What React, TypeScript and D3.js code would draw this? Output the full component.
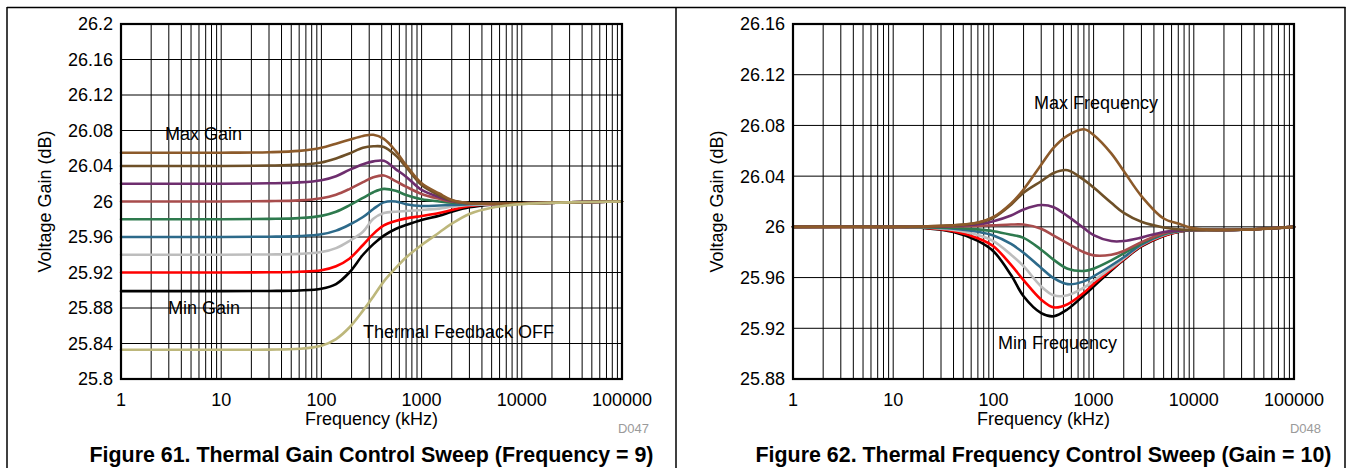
import React from 'react';
import * as d3 from 'd3';

// ---------- Figure 61: Thermal Gain Control Sweep ----------
const fig61Freq = [1, 10, 30, 60, 100, 140, 190, 260, 330, 420, 550, 700, 1000, 1500, 2000, 3000, 5000, 10000, 30000, 100000];
const fig61Gain1 = [26.055, 26.055, 26.0555, 26.057, 26.0605, 26.0652, 26.0695, 26.0738, 26.0752, 26.0705, 26.057, 26.041, 26.0205, 26.009, 26.0017, 25.998, 25.9975, 25.998, 25.999, 26.0];
const fig61Gain2 = [26.04, 26.04, 26.0405, 26.0415, 26.044, 26.0485, 26.054, 26.0605, 26.0622, 26.0615, 26.052, 26.039, 26.0186, 26.007, 26.001, 25.998, 25.9975, 25.998, 25.999, 26.0];
const fig61Gain3 = [26.02, 26.02, 26.0205, 26.0215, 26.024, 26.0285, 26.0356, 26.042, 26.0452, 26.0458, 26.0365, 26.028, 26.013, 26.005, 26.0006, 25.998, 25.9975, 25.998, 25.999, 26.0];
const fig61Gain4 = [26.0, 26.0, 26.0004, 26.0013, 26.0037, 26.0077, 26.014, 26.0218, 26.0272, 26.0293, 26.023, 26.0167, 26.0085, 26.003, 26.0, 25.998, 25.9975, 25.998, 25.999, 26.0];
const fig61Gain5 = [25.98, 25.98, 25.9804, 25.9813, 25.9838, 25.9885, 25.9956, 26.004, 26.0105, 26.0142, 26.012, 26.0073, 26.0025, 26.0, 25.9986, 25.998, 25.9975, 25.998, 25.999, 26.0];
const fig61Gain6 = [25.96, 25.96, 25.9603, 25.961, 25.963, 25.9672, 25.9738, 25.9825, 25.9915, 25.999, 26.0, 25.997, 25.995, 25.9955, 25.996, 25.997, 25.9975, 25.998, 25.999, 26.0];
const fig61Gain7 = [25.94, 25.94, 25.9403, 25.941, 25.943, 25.9475, 25.9555, 25.966, 25.9805, 25.987, 25.9885, 25.9893, 25.9904, 25.992, 25.994, 25.996, 25.997, 25.998, 25.999, 26.0];
const fig61Gain8 = [25.92, 25.92, 25.9202, 25.9208, 25.9225, 25.927, 25.9355, 25.951, 25.9635, 25.973, 25.978, 25.981, 25.9837, 25.987, 25.9904, 25.995, 25.997, 25.998, 25.999, 26.0];
const fig61Gain9 = [25.899, 25.899, 25.8992, 25.8998, 25.9018, 25.907, 25.92, 25.94, 25.952, 25.9615, 25.969, 25.9735, 25.9792, 25.984, 25.9885, 25.9935, 25.9965, 25.998, 25.999, 26.0];
const fig61FeedbackOff = [25.833, 25.833, 25.8331, 25.834, 25.8375, 25.845, 25.858, 25.877, 25.893, 25.91, 25.925, 25.937, 25.951, 25.965, 25.975, 25.986, 25.993, 25.997, 25.999, 26.0];
const fig61YTicks = [25.8, 25.84, 25.88, 25.92, 25.96, 26.0, 26.04, 26.08, 26.12, 26.16, 26.2];

// ---------- Figure 62: Thermal Frequency Control Sweep ----------
const fig62Freq = [1, 10, 20, 40, 70, 100, 150, 200, 300, 400, 550, 800, 1000, 1500, 2000, 3000, 5000, 7000, 10000, 30000, 100000];
const fig62Freq9 = [26.0, 26.0, 26.0003, 26.0012, 26.0035, 26.0078, 26.0185, 26.0295, 26.049, 26.0625, 26.072, 26.077, 26.0725, 26.058, 26.044, 26.0243, 26.0066, 26.0027, 25.9988, 25.9977, 26.0];
const fig62Freq8 = [26.0, 26.0, 26.0003, 26.0012, 26.0033, 26.0072, 26.0175, 26.027, 26.036, 26.0425, 26.0447, 26.037, 26.031, 26.019, 26.011, 26.004, 25.9995, 25.998, 25.9975, 25.9977, 26.0];
const fig62Freq7 = [26.0, 26.0, 26.0002, 26.0008, 26.002, 26.0045, 26.009, 26.0137, 26.0172, 26.0155, 26.0085, 25.999, 25.9935, 25.9888, 25.9888, 25.9915, 25.996, 25.997, 25.9975, 25.9977, 26.0];
const fig62Freq6 = [26.0, 26.0, 26.0, 26.0003, 26.0008, 26.0012, 26.0018, 26.0018, 25.9985, 25.993, 25.987, 25.98, 25.9775, 25.978, 25.981, 25.988, 25.995, 25.9972, 25.9975, 25.9977, 26.0];
const fig62Freq5 = [26.0, 26.0, 25.9998, 25.9993, 25.998, 25.9966, 25.9938, 25.9913, 25.982, 25.974, 25.967, 25.9652, 25.967, 25.9735, 25.979, 25.987, 25.9945, 25.9968, 25.9975, 25.9977, 26.0];
const fig62Freq4 = [26.0, 26.0, 25.9997, 25.9985, 25.9962, 25.9932, 25.9865, 25.9795, 25.9676, 25.9595, 25.9548, 25.957, 25.961, 25.9695, 25.976, 25.986, 25.994, 25.9965, 25.9975, 25.9977, 26.0];
const fig62Freq3 = [26.0, 26.0, 25.9995, 25.9975, 25.9935, 25.9887, 25.978, 25.969, 25.953, 25.946, 25.946, 25.952, 25.9575, 25.9675, 25.975, 25.9855, 25.9935, 25.9963, 25.9975, 25.9977, 26.0];
const fig62Freq2 = [26.0, 26.0, 25.9993, 25.9965, 25.991, 25.9847, 25.97, 25.958, 25.9426, 25.9365, 25.939, 25.948, 25.955, 25.9665, 25.9745, 25.985, 25.993, 25.9962, 25.9975, 25.9977, 26.0];
const fig62Freq1 = [26.0, 26.0, 25.9992, 25.996, 25.989, 25.9808, 25.962, 25.9453, 25.932, 25.9295, 25.935, 25.946, 25.953, 25.9655, 25.974, 25.9845, 25.9928, 25.996, 25.9975, 25.9977, 26.0];
const fig62YTicks = [25.88, 25.92, 25.96, 26.0, 26.04, 26.08, 26.12, 26.16];

const xTickValues = [1, 10, 100, 1000, 10000, 100000];

// series colours (drawing order: first drawn at the bottom)
const sweepColors = ['#000000', '#ff0000', '#bdbdbd', '#2d6a8a', '#2e7a4e', '#a84c4c', '#6e2e6e', '#6e5028', '#8c5a2a'];
const feedbackOffColor = '#bdb77b';

const FONT = '"Liberation Sans", Arial, Helvetica, sans-serif';

type Series = { freq: number[]; values: number[]; color: string };
type Note = { text: string; f: number; v: number };

function Chart(props: {
  left: number; right: number; top: number; bottom: number;
  yDomain: [number, number]; yTicks: number[];
  series: Series[]; notes: Note[]; caption: string; code: string;
}) {
  const { left, right, top, bottom, yDomain, yTicks, series, notes, caption, code } = props;
  const x = d3.scaleLog().domain([1, 100000]).range([left, right]);
  const y = d3.scaleLinear().domain(yDomain).range([bottom, top]);
  const grid: number[] = [];
  for (let e = 0; e < 5; e++) for (let k = 1; k < 10; k++) grid.push(k * Math.pow(10, e));
  grid.push(100000);
  const line = d3.line<[number, number]>().x(d => x(d[0])).y(d => y(d[1])).curve(d3.curveCatmullRom.alpha(0.5));
  const cx = (left + right) / 2;
  const fmt = (v: number) => String(Number(v.toFixed(2)));
  return (
    <g>
      {grid.map((g, i) => (
        <line key={'v' + i} x1={x(g)} x2={x(g)} y1={top} y2={bottom} stroke="#000" strokeWidth={1} />
      ))}
      {yTicks.map((t, i) => (
        <line key={'h' + i} x1={left} x2={right} y1={y(t)} y2={y(t)} stroke="#000" strokeWidth={1} />
      ))}
      {series.map((s, i) => (
        <path key={'s' + i} d={line(s.freq.map((f, j) => [f, s.values[j]] as [number, number])) || ''}
          fill="none" stroke={s.color} strokeWidth={2.6} strokeLinejoin="round" strokeLinecap="round" />
      ))}
      <rect x={left} y={top} width={right - left} height={bottom - top} fill="none" stroke="#000" strokeWidth={2.2} />
      {yTicks.map((t, i) => (
        <text key={'yl' + i} x={left - 8} y={y(t)} dy="0.36em" textAnchor="end" fontSize={18}>{fmt(t)}</text>
      ))}
      {xTickValues.map((t, i) => (
        <text key={'xl' + i} x={x(t)} y={bottom + 27} textAnchor="middle" fontSize={18}>{String(t)}</text>
      ))}
      <text x={cx} y={bottom + 46} textAnchor="middle" fontSize={18}>Frequency (kHz)</text>
      <text transform={`translate(${left - 70},${(top + bottom) / 2}) rotate(-90)`} textAnchor="middle" fontSize={18}>Voltage Gain (dB)</text>
      {notes.map((n, i) => (
        <text key={'n' + i} x={x(n.f)} y={y(n.v)} dy="0.36em" fontSize={18}>{n.text}</text>
      ))}
      <text x={right + 27} y={bottom + 54} textAnchor="end" fontSize={13} fill="#9a9a9a">{code}</text>
      <text x={cx} y={462} textAnchor="middle" fontSize={21.4} fontWeight="bold">{caption}</text>
    </g>
  );
}

export default function App() {
  const fig61Values = [fig61Gain9, fig61Gain8, fig61Gain7, fig61Gain6, fig61Gain5, fig61Gain4, fig61Gain3, fig61Gain2, fig61Gain1];
  const fig61Series: Series[] = fig61Values.map((v, i) => ({ freq: fig61Freq, values: v, color: sweepColors[i] }));
  fig61Series.push({ freq: fig61Freq, values: fig61FeedbackOff, color: feedbackOffColor });
  const fig62Values = [fig62Freq1, fig62Freq2, fig62Freq3, fig62Freq4, fig62Freq5, fig62Freq6, fig62Freq7, fig62Freq8, fig62Freq9];
  const fig62Series: Series[] = fig62Values.map((v, i) => ({ freq: fig62Freq, values: v, color: sweepColors[i] }));

  return (
    <svg width={1349} height={468} style={{ position: 'absolute', left: 0, top: 0 }} fontFamily={FONT}>
      <rect x={0} y={0} width={1349} height={468} fill="#fff" />
      <line x1={7} x2={1345.5} y1={7.5} y2={7.5} stroke="#000" strokeWidth={1.5} />
      <line x1={7} x2={7} y1={7} y2={468} stroke="#000" strokeWidth={1.5} />
      <line x1={676} x2={676} y1={7} y2={468} stroke="#000" strokeWidth={1.5} />
      <line x1={1345} x2={1345} y1={7} y2={468} stroke="#000" strokeWidth={1.5} />
      <Chart left={121} right={622} top={24} bottom={379} yDomain={[25.8, 26.2]} yTicks={fig61YTicks}
        series={fig61Series}
        notes={[
          { text: 'Max Gain', f: 2.75, v: 26.077 },
          { text: 'Min Gain', f: 2.95, v: 25.88 },
          { text: 'Thermal Feedback OFF', f: 260, v: 25.853 },
        ]}
        caption="Figure 61. Thermal Gain Control Sweep (Frequency = 9)" code="D047" />
      <Chart left={793} right={1294} top={24} bottom={379} yDomain={[25.88, 26.16]} yTicks={fig62YTicks}
        series={fig62Series}
        notes={[
          { text: 'Max Frequency', f: 254, v: 26.0977 },
          { text: 'Min Frequency', f: 111, v: 25.9084 },
        ]}
        caption="Figure 62. Thermal Frequency Control Sweep (Gain = 10)" code="D048" />
    </svg>
  );
}
